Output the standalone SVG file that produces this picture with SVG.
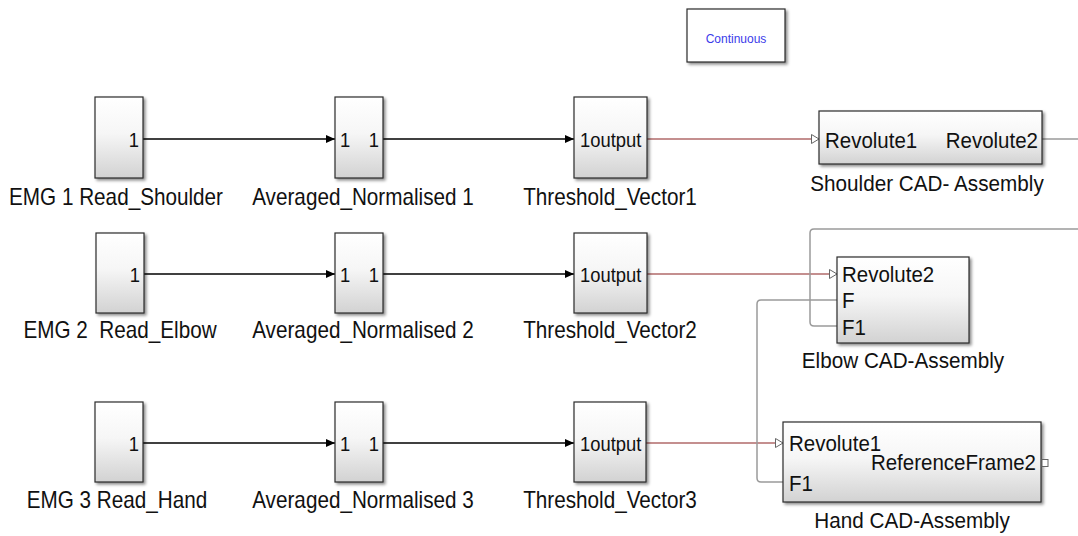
<svg xmlns="http://www.w3.org/2000/svg" width="1078" height="536" viewBox="0 0 1078 536">
<style>
.blk{fill:url(#g);stroke:#2b2b2b;stroke-width:1.2;filter:url(#sh)}
.t{font-family:"Liberation Sans",Arial,sans-serif;fill:#111}
.lab{font-size:20.7px;text-anchor:middle}
.pt{font-size:18.4px}
.cad{font-size:20.5px}
.sig{fill:none;stroke:#000;stroke-width:1.4}
.phys{fill:none;stroke:#b06a6a;stroke-width:1.4}
.conn{fill:none;stroke:#9a9a9a;stroke-width:1.5;stroke-linejoin:round}
</style>
<defs>
<linearGradient id="g" x1="0" y1="0" x2="0" y2="1">
<stop offset="0" stop-color="#ffffff"/>
<stop offset="0.45" stop-color="#f6f6f6"/>
<stop offset="1" stop-color="#d2d2d2"/>
</linearGradient>
<filter id="sh" x="-20%" y="-20%" width="150%" height="150%">
<feDropShadow dx="2" dy="2" stdDeviation="1.4" flood-color="#000" flood-opacity="0.45"/>
</filter>
<marker id="ah" markerWidth="9" markerHeight="8" refX="9" refY="4" orient="auto" markerUnits="userSpaceOnUse">
<path d="M0,0 L9,4 L0,8 Z" fill="#000"/>
</marker>
</defs>
<rect width="1078" height="536" fill="#fff"/>

<g id="connectors">
<line class="sig" x1="143" y1="139" x2="335" y2="139" marker-end="url(#ah)"/>
<line class="sig" x1="383" y1="139" x2="574" y2="139" marker-end="url(#ah)"/>
<line class="sig" x1="144" y1="274" x2="335" y2="274" marker-end="url(#ah)"/>
<line class="sig" x1="383" y1="274" x2="574" y2="274" marker-end="url(#ah)"/>
<line class="sig" x1="143" y1="443" x2="335" y2="443" marker-end="url(#ah)"/>
<line class="sig" x1="383" y1="443" x2="574" y2="443" marker-end="url(#ah)"/>
<line class="phys" x1="647" y1="139" x2="812" y2="139"/>
<line class="phys" x1="647" y1="274" x2="830" y2="274"/>
<line class="phys" x1="646" y1="443" x2="776" y2="443"/>
<path class="conn" d="M1042,139 H1078"/>
<path class="conn" d="M1078,229 H814 Q810,229 810,233 V322 Q810,326 814,326 H837"/>
<path class="conn" d="M837,300 H761 Q757,300 757,304 V478 Q757,482 761,482 H783"/>
<g fill="#fff" stroke="#666" stroke-width="1">
<path d="M811.5,134.5 L819,139 L811.5,143.5 Z"/>
<path d="M829.5,269.5 L837,274 L829.5,278.5 Z"/>
<path d="M775.5,438.5 L783,443 L775.5,447.5 Z"/>
</g>
</g>

<g id="continuous">
<rect x="687" y="9" width="98" height="53" fill="#fff" stroke="#2b2b2b" stroke-width="1.2" filter="url(#sh)"/>
<text class="t" x="736" y="43" font-size="12" text-anchor="middle" style="fill:#3b3bea">Continuous</text>
</g>

<g id="emg1">
<rect class="blk" x="95" y="97" width="48" height="81"/>
<text class="t pt" text-anchor="end" transform="translate(139,147) scale(1,1.14)">1</text>
<text class="t lab" transform="translate(116,205) scale(1,1.14)">EMG 1 Read_Shoulder</text>
</g>
<g id="avg1">
<rect class="blk" x="335" y="97" width="48" height="81"/>
<text class="t pt" transform="translate(340,147) scale(1,1.14)">1</text>
<text class="t pt" text-anchor="end" transform="translate(379,147) scale(1,1.14)">1</text>
<text class="t lab" transform="translate(363,205) scale(1,1.14)">Averaged_Normalised 1</text>
</g>
<g id="thr1">
<rect class="blk" x="574" y="97" width="73" height="81"/>
<text class="t pt" transform="translate(580,147) scale(1,1.14)">1output</text>
<text class="t lab" transform="translate(610,205) scale(1,1.14)">Threshold_Vector1</text>
</g>
<g id="shoulder">
<rect class="blk" x="819" y="111" width="223" height="53"/>
<text class="t cad" transform="translate(825,148) scale(1,1.1)">Revolute1</text>
<text class="t cad" text-anchor="end" transform="translate(1038,148) scale(1,1.1)">Revolute2</text>
<text class="t lab" transform="translate(927,191) scale(1,1.1)">Shoulder CAD- Assembly</text>
</g>

<g id="emg2">
<rect class="blk" x="96" y="233" width="48" height="80"/>
<text class="t pt" text-anchor="end" transform="translate(140,282) scale(1,1.14)">1</text>
<text class="t lab" transform="translate(120,338) scale(1,1.14)">EMG 2&#160; Read_Elbow</text>
</g>
<g id="avg2">
<rect class="blk" x="335" y="233" width="48" height="80"/>
<text class="t pt" transform="translate(340,282) scale(1,1.14)">1</text>
<text class="t pt" text-anchor="end" transform="translate(379,282) scale(1,1.14)">1</text>
<text class="t lab" transform="translate(363,338) scale(1,1.14)">Averaged_Normalised 2</text>
</g>
<g id="thr2">
<rect class="blk" x="574" y="233" width="73" height="80"/>
<text class="t pt" transform="translate(580,282) scale(1,1.14)">1output</text>
<text class="t lab" transform="translate(610,338) scale(1,1.14)">Threshold_Vector2</text>
</g>
<g id="elbow">
<rect class="blk" x="837" y="257" width="132" height="86"/>
<text class="t cad" transform="translate(842,282) scale(1,1.1)">Revolute2</text>
<text class="t cad" transform="translate(842,308) scale(1,1.1)">F</text>
<text class="t cad" transform="translate(842,335) scale(1,1.1)">F1</text>
<text class="t lab" transform="translate(903,368) scale(1,1.1)">Elbow CAD-Assembly</text>
</g>

<g id="emg3">
<rect class="blk" x="95" y="402" width="48" height="80"/>
<text class="t pt" text-anchor="end" transform="translate(139,451) scale(1,1.14)">1</text>
<text class="t lab" transform="translate(117,508) scale(1,1.14)">EMG 3 Read_Hand</text>
</g>
<g id="avg3">
<rect class="blk" x="335" y="402" width="48" height="80"/>
<text class="t pt" transform="translate(340,451) scale(1,1.14)">1</text>
<text class="t pt" text-anchor="end" transform="translate(379,451) scale(1,1.14)">1</text>
<text class="t lab" transform="translate(363,508) scale(1,1.14)">Averaged_Normalised 3</text>
</g>
<g id="thr3">
<rect class="blk" x="574" y="402" width="72" height="80"/>
<text class="t pt" transform="translate(580,451) scale(1,1.14)">1output</text>
<text class="t lab" transform="translate(610,508) scale(1,1.14)">Threshold_Vector3</text>
</g>
<g id="hand">
<rect class="blk" x="783" y="422" width="258" height="80"/>
<text class="t cad" transform="translate(789,451) scale(1,1.1)">Revolute1</text>
<text class="t cad" text-anchor="end" transform="translate(1036,470) scale(1,1.1)">ReferenceFrame2</text>
<text class="t cad" transform="translate(789,491) scale(1,1.1)">F1</text>
<rect x="1042" y="459.5" width="6" height="7" fill="#fff" stroke="#666" stroke-width="1"/>
<text class="t lab" transform="translate(912,528) scale(1,1.1)">Hand CAD-Assembly</text>
</g>
</svg>
